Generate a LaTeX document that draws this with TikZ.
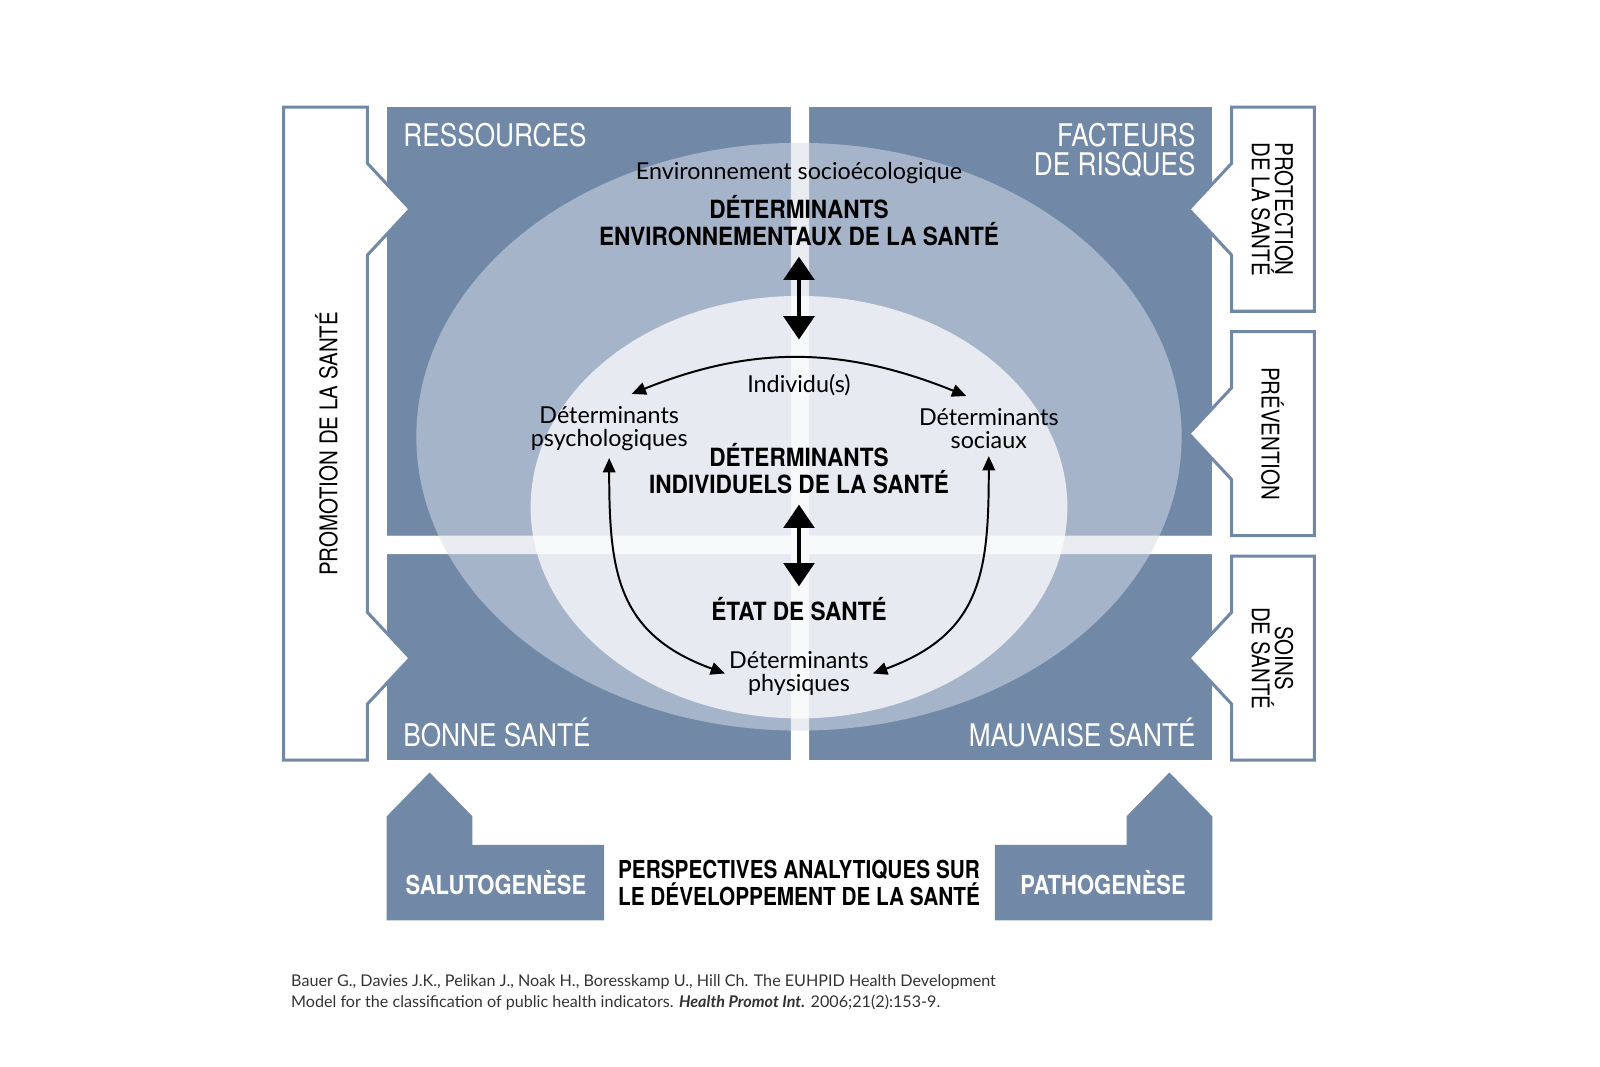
\documentclass[tikz,border=0pt]{standalone}
\usepackage{fontspec}
\setmainfont{Lato}
\newfontfamily\condfont[FakeStretch=0.84]{TeX Gyre Heros}
\newfontfamily\condwide[FakeStretch=0.9]{TeX Gyre Heros}
\usetikzlibrary{arrows.meta,positioning,calc}
\definecolor{quadblue}{HTML}{7189A7}
\definecolor{envblue}{HTML}{A6B4CA}
\definecolor{indblue}{HTML}{E7EAF1}
\definecolor{citegray}{HTML}{333333}

\tikzset{
  quad/.style = {fill = quadblue},
  sideframe/.style = {draw = quadblue, line width = 1.7pt, fill = white, line join = miter},
  quadlabel/.style = {text = white, font = \condfont\fontsize{17.4}{16.5}\selectfont, inner sep = 0pt},
  biglabel/.style = {font = \condwide\bfseries\fontsize{14}{15}\selectfont, align = center, inner sep = 1pt},
  persplabel/.style = {font = \condfont\bfseries\fontsize{13.8}{15}\selectfont, align = center, inner sep = 1pt},
  smalllabel/.style = {font = \fontsize{13}{13}\selectfont, align = center, inner sep = 1pt},
  sidelabel/.style = {font = \condfont\fontsize{13.6}{13}\selectfont, align = center},
  btmlabel/.style = {text = white, font = \condfont\bfseries\fontsize{14.6}{16}\selectfont},
  bigarrow/.style = {{Triangle[width=17pt,length=13pt]}-{Triangle[width=17pt,length=13pt]}, line width = 2.3pt},
  thinarrow/.style = {{Triangle[width=7pt,length=8pt]}-{Triangle[width=7pt,length=8pt]}, line width = 1.1pt},
}

\begin{document}
\begin{tikzpicture}[x = 0.02cm, y = 0.02cm]
    \useasboundingbox (0,0) rectangle (1568,-1045);
    % quadrants
    \fill[quad] (379,-105) rectangle (775,-525);
    \fill[quad] (793,-105) rectangle (1188,-525);
    \fill[quad] (379,-543) rectangle (775,-745);
    \fill[quad] (793,-543) rectangle (1188,-745);
    % determinants
    \fill[envblue] (783,-428) ellipse [x radius = 375, y radius = 288];
    \fill[indblue] (783,-497) ellipse [x radius = 263, y radius = 207];
    \fill[white, opacity = .75] (775,-105) rectangle (793,-745) (379,-525) rectangle (1188,-543);
    % side frames
    \draw[sideframe] (278,-105) -- (360,-105) -- (360,-160) -- (402,-205) -- (360,-250) -- (360,-600)
        -- (402,-645) -- (360,-690) -- (360,-745) -- (278,-745) -- cycle;
    \foreach \c in {205,425,645}
        \draw[sideframe] (1207,{100-\c}) -- (1288,{100-\c}) -- (1288,{-\c-100}) -- (1207,{-\c-100})
            -- (1207,{-\c-45}) -- (1165,-\c) -- (1207,{45-\c}) -- cycle;
    % bottom arrows
    \fill[quad] (379,-902) -- (379,-800) -- (421,-757) -- (463,-800) -- (463,-828) -- (592,-828) -- (592,-902) -- cycle;
    \fill[quad] (1188,-902) -- (1188,-800) -- (1146,-757) -- (1104,-800) -- (1104,-828) -- (975,-828) -- (975,-902) -- cycle;

    \node[quadlabel, anchor = west] (ressources) at (395,-132) {RESSOURCES};
    \node[quadlabel, anchor = east, align = right] (facteurs) at (1172,-147) {FACTEURS\\DE RISQUES};
    \node[quadlabel, anchor = west] (bonne) at (395,-718) {BONNE SANTÉ};
    \node[quadlabel, anchor = east] (mauvaise) at (1172,-718) {MAUVAISE SANTÉ};

    \node[sidelabel, rotate = 90] (promotion) at (320,-435) {PROMOTION DE LA SANTÉ};
    \node[sidelabel, rotate = -90] (protection) at (1247,-205) {PROTECTION\\DE LA SANTÉ};
    \node[sidelabel, rotate = -90] (prevention) at (1247,-425) {PRÉVENTION};
    \node[sidelabel, rotate = -90] (soins) at (1247,-645) {SOINS\\DE SANTÉ};

    \node[smalllabel] (envsoc) at (783,-170) {Environnement socioécologique};
    \node[biglabel] (envdet) at (783,-216) {DÉTERMINANTS\\ENVIRONNEMENTAUX DE LA SANTÉ};
    \node[smalllabel] (indiv) at (783,-377) {Individu(s)};
    \node[smalllabel] (psy) at (597,-420) {Déterminants\\psychologiques};
    \node[smalllabel] (soc) at (969,-420) {Déterminants\\sociaux};
    \node[biglabel] (inddet) at (783,-459) {DÉTERMINANTS\\INDIVIDUELS DE LA SANTÉ};
    \node[biglabel] (etat) at (783,-597) {ÉTAT DE SANTÉ};
    \node[smalllabel] (phys) at (783,-660) {Déterminants\\physiques};

    \draw[bigarrow, shorten <= 5pt, shorten >= 18pt] (envdet.south) -- (indiv.north);
    \draw[bigarrow, shorten <= 5pt, shorten >= 5pt] (inddet.south) -- (etat.north);
    \draw[thinarrow] ([shift = {(22,10)}]psy.north) to[out = 22, in = 158] ([shift = {(-22,10)}]soc.north);
    \draw[thinarrow] ([shift = {(0,-5)}]psy.south) to[out = -90, in = 160, looseness = 1.2] ([shift = {(-2,0)}]phys.west);
    \draw[thinarrow] ([shift = {(0,-5)}]soc.south) to[out = -90, in = 20, looseness = 1.2] ([shift = {(2,0)}]phys.east);

    \node[btmlabel] (saluto) at (486,-865) {SALUTOGENÈSE};
    \node[btmlabel] (patho) at (1081,-865) {PATHOGENÈSE};
    \node[persplabel] (persp) at (783,-865) {PERSPECTIVES ANALYTIQUES SUR\\LE DÉVELOPPEMENT DE LA SANTÉ};

    \node[anchor = north west, align = left, inner sep = 0pt, text = citegray, font = \fontsize{9}{11.4}\selectfont] (cite) at (285,-955)
        {Bauer G., Davies J.K., Pelikan J., Noak H., Boresskamp U., Hill Ch. The EUHPID Health Development\\
         Model for the classification of public health indicators. \textbf{\textit{Health Promot Int.}} 2006;21(2):153-9.};
\end{tikzpicture}
\end{document}
